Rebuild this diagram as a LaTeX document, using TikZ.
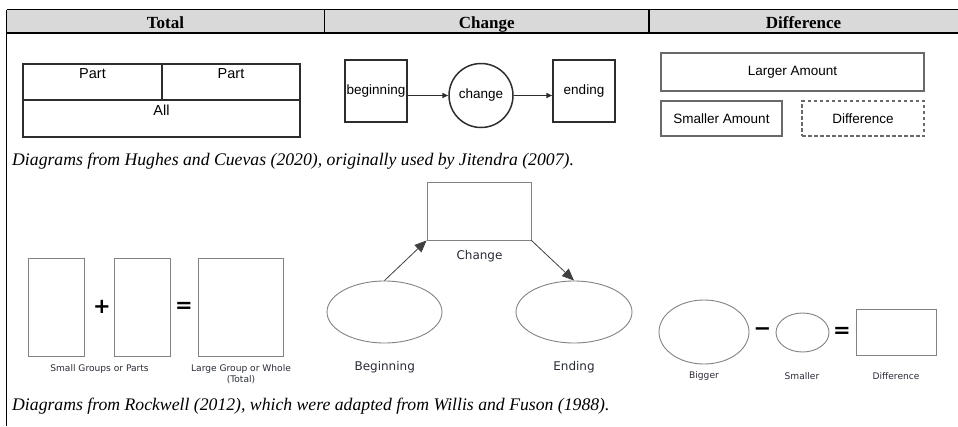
\documentclass[tikz,border=0pt]{standalone}
\usepackage{fontspec}
\setmainfont{Liberation Serif}
\newfontfamily\arialfont{Liberation Sans}
\newfontfamily\lucfont{DejaVu Sans}
\usetikzlibrary{arrows.meta,shapes.geometric}
\definecolor{headgray}{RGB}{217,217,217}
\definecolor{boxdark}{RGB}{45,45,45}
\definecolor{boxmid}{RGB}{105,105,105}
\definecolor{boxlight}{RGB}{130,130,130}
\definecolor{labtext}{RGB}{40,44,52}
\tikzset{
  rule/.style={line width=1.4pt,black},
  headtext/.style={font=\fontsize{17}{19}\selectfont\bfseries,anchor=base,inner sep=0},
  captext/.style={font=\fontsize{17.7}{19}\selectfont\itshape,anchor=base west,inner sep=0},
  cell/.style={draw=boxdark,line width=1.6pt,rectangle,inner sep=0},
  celltext/.style={font=\arialfont\fontsize{14.5}{16}\selectfont},
  chbox/.style={draw=boxdark,line width=1.5pt,rectangle,inner sep=0,
    minimum width=62,minimum height=62,font=\arialfont\fontsize{13.5}{15}\selectfont},
  chcirc/.style={draw=boxdark,line width=1.5pt,circle,inner sep=0,minimum size=64,
    font=\arialfont\fontsize{13.5}{15}\selectfont},
  charrow/.style={line width=1.5pt,boxdark,-{Triangle[length=6pt,width=5pt]}},
  dfbox/.style={draw=boxmid,line width=1.2pt,rectangle,inner sep=0,
    font=\arialfont\fontsize{13.5}{15}\selectfont},
  rwshape/.style={draw=boxlight,line width=0.9pt,inner sep=0},
  rwlabel/.style={font=\lucfont\fontsize{9.1}{10.5}\selectfont,text=labtext,inner sep=0,align=center},
  rwbig/.style={font=\lucfont\fontsize{12}{13}\selectfont,text=labtext,inner sep=0},
  rwarrow/.style={line width=0.8pt,black!75,-{Triangle[length=12pt,width=10pt]}},
  opsym/.style={font=\lucfont\bfseries\fontsize{21}{22}\selectfont,inner sep=0}
}
\begin{document}
\begin{tikzpicture}[x=1pt,y=-1pt]
\useasboundingbox (0,0) rectangle (958,426);
% table frame and header row
\fill[headgray] (6.5,9.5) rectangle (958,33);
\draw[rule] (6.5,9.5) -- (958,9.5);
\draw[rule] (6.5,33) -- (958,33);
\draw[rule] (6.5,9.5) -- (6.5,426);
\draw[rule] (324.5,9.5) -- (324.5,33);
\draw[rule] (649,9.5) -- (649,33);
\node[headtext] (hTotal) at (165.5,28) {Total};
\node[headtext] (hChange) at (486.75,28) {Change};
\node[headtext] (hDiff) at (803.5,28) {Difference};

% part-part-whole bar
\node[cell,minimum width=139,minimum height=36,
  label={[celltext,anchor=north,inner sep=5.5pt]north:Part}] (p1) at (92.5,82) {};
\node[cell,minimum width=138,minimum height=36,
  label={[celltext,anchor=north,inner sep=5.5pt]north:Part}] (p2) at (231,82) {};
\node[cell,minimum width=277,minimum height=37,
  label={[celltext,anchor=north,inner sep=5.5pt]north:All}] (all) at (161.5,118.5) {};

% change sequence
\node[chbox] (beg) at (376,91) {\raisebox{-1.5pt}{beginning}};
\node[chcirc] (chg) at (481,95.5) {change};
\node[chbox] (endb) at (584,91) {\raisebox{-1.5pt}{ending}};
\draw[charrow] (beg.east |- chg.center) -- (chg.west);
\draw[charrow] (chg.east) -- (endb.west |- chg.east);

% difference bars
\node[dfbox,minimum width=263,minimum height=38] (larger) at (792.5,72) {Larger Amount};
\node[dfbox,minimum width=121,minimum height=35] (smaller) at (721.5,118.5) {Smaller Amount};
\node[dfbox,dash pattern=on 3.5pt off 2.5pt,minimum width=122,minimum height=35] (diffb) at (863,118.5) {Difference};

% first caption
\node[captext] (cap1) at (12,165.5) {Diagrams from Hughes and Cuevas (2020), originally used by Jitendra (2007).};

% part + part = whole
\node[rwshape,rectangle,minimum width=56,minimum height=98] (s1) at (56,307) {};
\node[rwshape,rectangle,minimum width=56,minimum height=98] (s2) at (142,307) {};
\node[rwshape,rectangle,minimum width=85,minimum height=98] (whole) at (240.5,307) {};
\node[opsym] (plus) at (102,307) {+};
\node[opsym] (eq1) at (184,307) {=};
\node[rwlabel] (lsmall) at (99.5,369) {Small Groups or Parts};
\node[rwlabel,anchor=north] (lwhole) at (241,364.5) {Large Group or Whole\\(Total)};

% beginning -> change -> ending
\node[rwshape,rectangle,minimum width=104,minimum height=58] (rchg) at (479,211) {};
\node[rwbig] (lchg) at (479.5,256) {Change};
\node[rwshape,ellipse,minimum width=115,minimum height=62] (rbeg) at (384.5,312) {};
\node[rwshape,ellipse,minimum width=116,minimum height=62] (rend) at (574,312) {};
\draw[rwarrow] (rbeg.north) -- (rchg.south west);
\draw[rwarrow] (rchg.south east) -- (rend.north);
\node[rwbig] (lbeg) at (384.7,367) {Beginning};
\node[rwbig] (lend) at (574,367) {Ending};

% bigger - smaller = difference
\node[rwshape,ellipse,minimum width=90,minimum height=64] (big) at (704,332) {};
\node[rwshape,ellipse,minimum width=53,minimum height=39] (small) at (802.5,332.5) {};
\node[rwshape,rectangle,minimum width=80,minimum height=46] (rdiff) at (896,332) {};
\node[opsym] (minus) at (762.5,332) {−};
\node[opsym] (eq2) at (842,332) {=};
\node[rwlabel] (lbig) at (704,376) {Bigger};
\node[rwlabel] (lsm) at (802,376) {Smaller};
\node[rwlabel] (ldiff) at (896,376) {Difference};

% second caption
\node[captext] (cap2) at (12,410) {Diagrams from Rockwell (2012), which were adapted from Willis and Fuson (1988).};
\end{tikzpicture}
\end{document}
